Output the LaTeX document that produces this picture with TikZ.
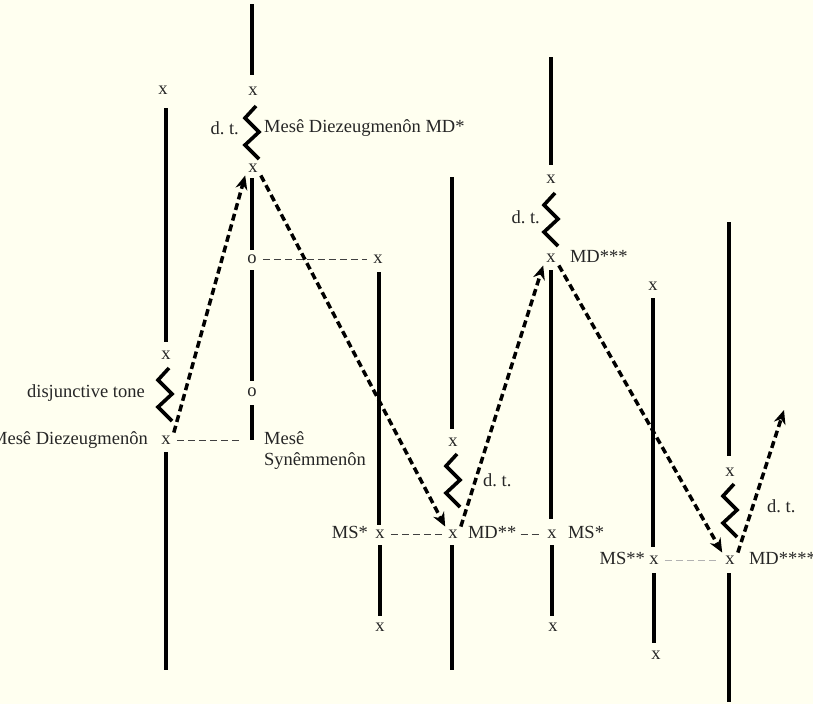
\documentclass[tikz,border=0pt]{standalone}
\usepackage{fontspec}
\setmainfont{Liberation Serif}
\usepackage{tikz}
\usetikzlibrary{arrows.meta,positioning}
\definecolor{crema}{RGB}{255,255,240}
\tikzset{
  nota/.style={inner sep=3pt,text=black!85,font=\fontsize{18.5}{21}\selectfont},
  rotulo/.style={inner sep=1pt,text=black!85,text height=12pt,text depth=4pt,font=\fontsize{18.5}{21}\selectfont},
  cuerda/.style={line width=4.5pt},
  salto/.style={line width=3.5pt,dash pattern=on 7pt off 4pt,-{Stealth[length=14pt,width=12pt]}},
  enlace/.style={black!75,line width=1pt,dash pattern=on 7pt off 4pt,shorten <=3pt,shorten >=3pt},
  tono/.pic={\draw[line width=3.6pt,miter limit=6] (4,-27) -- (-7,-15) -- (7,-1) -- (-7,12) -- (7,26);}
}
\begin{document}
\begin{tikzpicture}[x=1pt,y=-1pt]
\useasboundingbox (0,0) rectangle (813,704);
\clip (0,0) rectangle (813,704);
\fill[crema] (0,0) rectangle (813,704);
% cuerdas
\foreach \x/\a/\b in {166/108/342, 166/452/670, 252/4/75, 252/178/250, 252/270/381,
  252/405/440, 379/272/525, 380/545/616, 452/177/429, 452/545/670, 551/57/165,
  551/270/519, 552/545/616, 653/298/547, 654/573/643, 729/222/456, 729/573/702}
  \draw[cuerda] (\x,\a) -- (\x,\b);
% notas
\node[nota] (a1) at (163,90) {x};
\node[nota] (b1) at (166,355) {x};
\node[nota] (c1) at (166,440) {x};
\node[nota] (a2) at (253,91) {x};
\node[nota] (b2) at (253,168) {x};
\node[nota] (o1) at (252,259) {o};
\node[nota] (o2) at (252,392) {o};
\coordinate (fin2) at (252,440);
\node[nota] (a3) at (378,259) {x};
\node[nota] (b3) at (380,534) {x};
\node[nota] (c3) at (380,627) {x};
\node[nota] (a4) at (453,442) {x};
\node[nota] (b4) at (453,534) {x};
\node[nota] (a5) at (551,179) {x};
\node[nota] (b5) at (551,258) {x};
\node[nota] (c5) at (552,534) {x};
\node[nota] (d5) at (553,627) {x};
\node[nota] (a6) at (653,286) {x};
\node[nota] (b6) at (654,560) {x};
\node[nota] (c6) at (656,655) {x};
\node[nota] (a7) at (730,472) {x};
\node[nota] (b7) at (730,560) {x};
\coordinate (fin7) at (784,410);
% tonos disyuntivos
\pic at (165,395) {tono};
\pic at (252,133) {tono};
\pic at (453,481) {tono};
\pic at (551,220) {tono};
\pic at (730,511) {tono};
% rotulos
\node[rotulo,anchor=east] (dt1) at (146,393) {disjunctive tone};
\node[rotulo,anchor=east] (mdz) at (149,440) {Mesê Diezeugmenôn};
\node[rotulo,anchor=east] (dt2) at (240,130) {d.\ t.};
\node[rotulo,anchor=west] (md1) at (263,128) {Mesê Diezeugmenôn MD*};
\node[inner sep=1pt,anchor=north west,align=left,text=black!85,font=\fontsize{18.5}{21}\selectfont] (msy) at (263,430) {Mesê\\Synêmmenôn};
\node[rotulo,left=3pt of b3] (ms1) {MS*};
\node[rotulo,right=6pt of b4] (md2) {MD**};
\node[rotulo,anchor=west] (dt4) at (482,482) {d.\ t.};
\node[rotulo,anchor=east] (dt5) at (541,219) {d.\ t.};
\node[rotulo,right=10pt of b5] (md3) {MD***};
\node[rotulo,right=7pt of c5] (ms2) {MS*};
\node[rotulo,left=0pt of b6] (ms3) {MS**};
\node[rotulo,anchor=west] (dt7) at (766,508) {d.\ t.};
\node[rotulo,right=10pt of b7] (md4) {MD****};
% enlaces
\draw[enlace,shorten >=12pt] (c1) -- (fin2);
\draw[enlace] (o1) -- (a3);
\draw[enlace] (b3) -- (b4);
\draw[enlace] (md2) -- (c5);
\draw[enlace,gray!60] (b6) -- (b7);
% saltos
\draw[salto] (c1.north east) -- (b2.south west);
\draw[salto] (b2.south east) -- (b4.north west);
\draw[salto] (b4.north east) -- (b5.south west);
\draw[salto] (b5.south east) -- (b7.north west);
\draw[salto] (b7.north east) -- (fin7);
\end{tikzpicture}
\end{document}
